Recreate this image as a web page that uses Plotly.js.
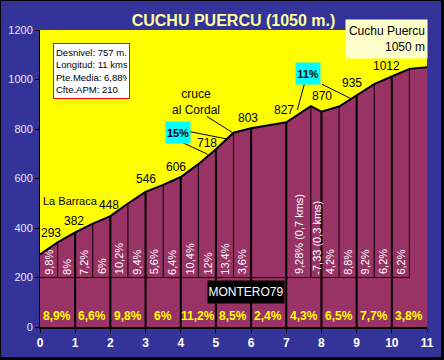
<!DOCTYPE html>
<html><head><meta charset="utf-8">
<script src="https://cdn.plot.ly/plotly-3.0.1.min.js"></script>
<style>html,body{margin:0;padding:0;background:#333399;}#c{width:444px;height:360px;}</style>
</head><body><div id="c"></div>
<script>
// ---- data ----
const kms = [0,0.5,1,1.5,2,2.5,3,3.5,4,4.5,5,5.5,6,7,7.7,8,8.5,9,9.5,10,10.5,11];
const elevations = [293,342,382,418,448,499,546,574,606,658,718,785,803,827,892,870,891,935,981,1012,1043,1050];
const labelledKms = [0,1,2,3,4,5,6,7,8,9,10];
const segmentGrades = ['9,8%','8%','7,2%','6%','10,2%','9,4%','5,6%','6,4%','10,4%','12%','13,4%','3,6%','','9,28% (0,7 kms)','-7,33 (0,3 kms)','4,2%','8,8%','9,2%','6,2%','6,2%',''];
const kmGrades = ['8,9%','6,6%','9,8%','6%','11,2%','8,5%','2,4%','4,3%','6,5%','7,7%','3,8%'];
const yTicks = [0,200,400,600,800,1000,1200];
const xTicks = [0,1,2,3,4,5,6,7,8,9,10,11];
const infoLines = ['Desnivel: 757 m.','Longitud: 11 kms','Pte.Media: 6,88%','Cfte.APM: 210'];
const titleText = 'CUCHU PUERCU (1050 m.)';
const summitText = ['Cuchu Puercu','1050 m'];
const author = 'MONTERO79';
const gradeLineLevel = 200;

// ---- geometry helpers ----
const W=444,H=360,L=40,R=17,T=30,B=33,PW=W-L-R,PH=H-T-B;
const PX = x => (x-L)/PW, PY = y => (H-B-y)/PH;
const DX = x => (x-L)/PW*11, DY = y => (H-B-y)/PH*1200;
const F = 'Arial, "Liberation Sans", sans-serif';

const elevAt = k => elevations[kms.indexOf(k)];

// vertical lines
const thickX=[],thickY=[],thinX=[],thinY=[];
kms.forEach((k,i)=>{
  if (k===0 || k===11) return;
  if (Number.isInteger(k)) { thickX.push(k,k,null); thickY.push(0,elevations[i],null); }
  else { thinX.push(k,k,null); thinY.push(gradeLineLevel,elevations[i],null); }
});
const lastHalf = kms[kms.length-2];

const traces = [
  {x:kms,y:elevations,type:'scatter',mode:'lines',fill:'tozeroy',fillcolor:'#993366',line:{width:0,color:'rgba(0,0,0,0)'},hoverinfo:'skip'},
  {x:thickX,y:thickY,type:'scatter',mode:'lines',line:{color:'#000',width:2},hoverinfo:'skip'},
  {x:thinX,y:thinY,type:'scatter',mode:'lines',line:{color:'#000',width:1},hoverinfo:'skip'},
  {x:[0,lastHalf],y:[gradeLineLevel,gradeLineLevel],type:'scatter',mode:'lines',line:{color:'#000',width:1},hoverinfo:'skip'},
  {x:kms,y:elevations,type:'scatter',mode:'lines',line:{color:'#000',width:2},hoverinfo:'skip'}
];

const ann = [];
// elevation labels
const offs = {0:[11,21],1:[-1,11],2:[-1,11],3:[0,12.5],4:[-5,10.5],5:[-9,6],6:[-3,10.5],7:[-2.5,12.5],8:[1,15.5],9:[-5,13],10:[-5.5,10.6]};
labelledKms.forEach(k=>{
  const o = offs[k]||[-3,12];
  ann.push({x:k,y:elevAt(k),text:String(elevAt(k)),showarrow:false,xanchor:'center',yanchor:'middle',xshift:o[0],yshift:o[1],font:{family:F,size:12,color:'#000'}});
});
// segment grades (rotated)
segmentGrades.forEach((g,i)=>{
  if(!g) return;
  ann.push({x:(kms[i]+kms[i+1])/2,y:gradeLineLevel,text:g,textangle:-90,showarrow:false,xanchor:'center',yanchor:'bottom',yshift:1,font:{family:F,size:11,color:'#fff'}});
});
// km grades
kmGrades.forEach((g,i)=>{
  ann.push({x:i+0.49,y:DY(316),text:g,showarrow:false,xanchor:'center',yanchor:'middle',font:{family:F,size:12,color:'#ffff00',weight:'bold'}});
});
// other texts
ann.push({xref:'paper',yref:'paper',x:PX(40.5),y:PY(200.5),text:'La Barraca',showarrow:false,xanchor:'left',yanchor:'middle',font:{family:F,size:11,color:'#000'}});
ann.push({xref:'paper',yref:'paper',x:PX(195.5),y:PY(102),text:'cruce<br>al Cordal',showarrow:false,xanchor:'center',yanchor:'middle',font:{family:F,size:12,color:'#000'}});
ann.push({xref:'paper',yref:'paper',x:PX(178),y:PY(132),text:'15%',showarrow:false,xanchor:'center',yanchor:'middle',bgcolor:'#00ffff',width:24,height:21,borderpad:0,font:{family:F,size:11,color:'#000',weight:'bold'}});
ann.push({xref:'paper',yref:'paper',x:PX(307.5),y:PY(73.5),text:'11%',showarrow:false,xanchor:'center',yanchor:'middle',bgcolor:'#00ffff',width:24,height:21,borderpad:0,font:{family:F,size:11,color:'#000',weight:'bold'}});
ann.push({xref:'paper',yref:'paper',x:PX(52.5),y:PY(43.5),text:infoLines.join('<br>'),align:'left',showarrow:false,xanchor:'left',yanchor:'top',bgcolor:'#ffffff',bordercolor:'#ff0000',borderwidth:1,borderpad:2,width:71,height:50,font:{family:F,size:9.5,color:'#000'}});
ann.push({xref:'paper',yref:'paper',x:PX(427.5),y:PY(19),text:summitText.join('<br>'),align:'right',showarrow:false,xanchor:'right',yanchor:'top',bgcolor:'#ffffcc',borderpad:2,width:77,height:34,font:{family:F,size:12,color:'#000'}});
ann.push({xref:'paper',yref:'paper',x:PX(246),y:PY(292),text:author,showarrow:false,xanchor:'center',yanchor:'middle',bgcolor:'#000',width:76,height:22,borderpad:0,font:{family:F,size:12,color:'#fff'}});

const line = (x0,y0,x1,y1)=>({type:'line',xref:'x',yref:'y',x0:DX(x0),y0:DY(y0),x1:DX(x1),y1:DY(y1),line:{color:'#000',width:1}});
const shapes = [
  line(207,116.5,232,132.3),
  line(190,131.7,227,139),
  line(177,140,207.7,154.3),
  line(304.3,84.3,297.3,110),
  line(322,84.3,350.3,98.3),
  {type:'rect',xref:'paper',yref:'paper',x0:PX(0.5),x1:PX(443),y0:PY(0.5),y1:PY(358),line:{color:'#000',width:1},layer:'above'},
  {type:'rect',xref:'paper',yref:'paper',x0:PX(441),x1:PX(444),y0:PY(0),y1:PY(360),fillcolor:'#000',line:{width:0}},
  {type:'rect',xref:'paper',yref:'paper',x0:PX(0),x1:PX(444),y0:PY(357),y1:PY(360),fillcolor:'#000',line:{width:0}}
];

const layout = {
  width:W,height:H,margin:{l:L,r:R,t:T,b:B,pad:0},
  paper_bgcolor:'#333399',plot_bgcolor:'#ffff00',showlegend:false,
  title:{text:titleText,x:0.5,xref:'paper',xanchor:'center',y:1-20.5/H,yanchor:'middle',font:{family:F,size:16,color:'#ffff99',weight:'bold'}},
  xaxis:{range:[0,11],tickvals:xTicks,ticktext:xTicks.map(String),showgrid:false,zeroline:false,showline:true,linecolor:'#000',linewidth:2,ticks:'outside',ticklen:4,tickcolor:'#000',tickfont:{family:F,size:12,color:'#ffffff',weight:'bold'},fixedrange:true},
  yaxis:{range:[0,1200],tickvals:yTicks,ticktext:yTicks.map(String),showgrid:false,zeroline:false,showline:true,linecolor:'#000',linewidth:1,ticks:'outside',ticklen:4,tickcolor:'#000',tickfont:{family:F,size:11,color:'#e8e8ff'},fixedrange:true},
  annotations:ann,shapes:shapes
};
Plotly.newPlot('c',traces,layout,{staticPlot:true,displayModeBar:false});
</script></body></html>
